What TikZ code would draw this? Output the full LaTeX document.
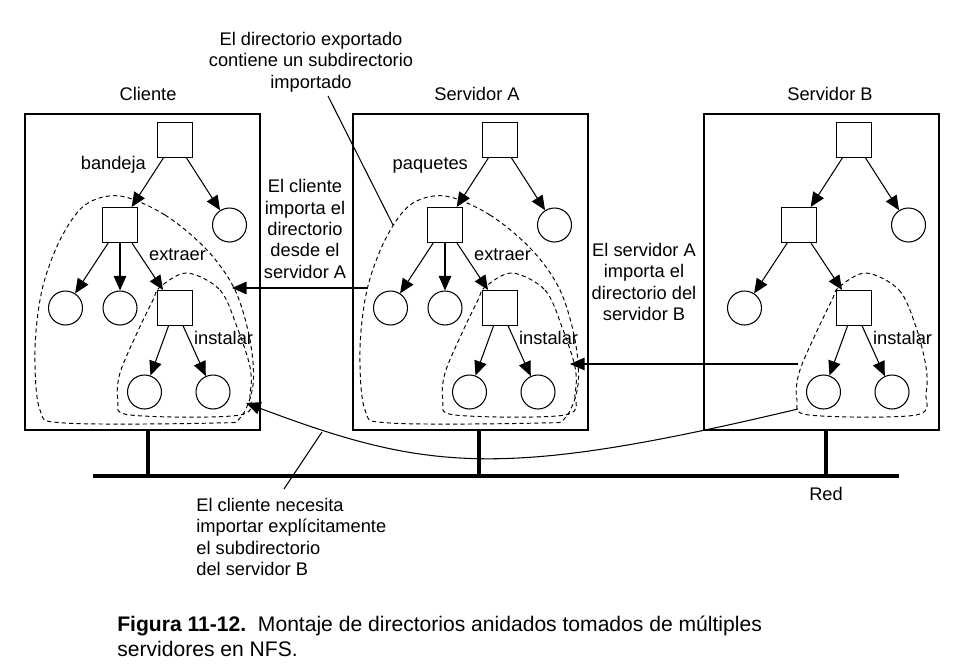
\documentclass[tikz,border=0pt]{standalone}
\usepackage{fontspec}
\setmainfont{Liberation Sans}
\usetikzlibrary{arrows.meta}

\begin{document}
\begin{tikzpicture}[x=0.02cm,y=-0.02cm,
	every node/.style={font=\fontsize{10.4}{12.2}\selectfont},
	dir/.style={draw,fill=white,minimum size=0.7cm,inner sep=0pt,line width=0.6pt},
	fil/.style={draw,circle,fill=white,minimum size=0.68cm,inner sep=0pt,line width=0.6pt},
	host/.style={draw,line width=0.8pt,minimum width=4.7cm,minimum height=6.32cm,inner sep=0pt},
	link/.style={line width=0.6pt,-{Triangle[length=2.9mm,width=2.5mm]}},
	region/.style={dash pattern=on 2.4pt off 1.8pt,line width=0.55pt},
	tap/.style={line width=1.8pt},
	note/.style={align=center,inner sep=0pt}]
					\useasboundingbox (0,0) rectangle (959,669);

					\node[host] (chost) at (142.5,272) {};
					\node[host] (ahost) at (470.5,272) {};
					\node[host] (bhost) at (821.5,272) {};
					\node (ctitle) at (148,94) {Cliente};
					\node (atitle) at (477,94) {Servidor A};
					\node (btitle) at (830,94) {Servidor B};

					\coordinate (net1) at (93,476);
					\coordinate (net2) at (899,476);
					\coordinate (ctap) at (148,476);
					\coordinate (atap) at (479,476);
					\coordinate (btap) at (826,476);
					\draw[line width=2.3pt] (net1) to[] (net2);
					\draw[tap] (ctap |- chost.south) to[] (ctap);
					\draw[tap] (atap |- ahost.south) to[] (atap);
					\draw[tap] (btap |- bhost.south) to[] (btap);
					\node (red) at (826,494) {Red};

					\draw[region,shift={(175,140)}] plot[smooth cycle,tension=0.55] coordinates {(-55,56) (-10,75) (32,110) (60,150) (75,200) (78,245) (65,278) (40,283) (-110,283) (-135,270) (-140,210) (-133,150) (-115,100) (-90,65)};
					\draw[region,shift={(175,308)}] plot[smooth cycle,tension=0.55] coordinates {(12,-35) (45,-18) (62,19) (75,59) (75,85) (65,107) (-45,107) (-57,92) (-55,65) (-38,25) (-22,-8) (-15,-21)};
					\draw[region,shift={(500,140)}] plot[smooth cycle,tension=0.55] coordinates {(-55,56) (-10,75) (32,110) (60,150) (75,200) (78,245) (65,278) (40,283) (-110,283) (-135,270) (-140,210) (-133,150) (-115,100) (-90,65)};
					\draw[region,shift={(500,308)}] plot[smooth cycle,tension=0.55] coordinates {(12,-35) (45,-18) (62,19) (75,59) (75,85) (65,107) (-45,107) (-57,92) (-55,65) (-38,25) (-22,-8) (-15,-21)};
					\draw[region,shift={(854,308)}] plot[smooth cycle,tension=0.55] coordinates {(12,-35) (45,-18) (62,19) (72,59) (72,85) (62,107) (-45,107) (-57,92) (-55,65) (-38,25) (-22,-8) (-15,-21)};

					\node[dir] (c0) at (175,140) {};
					\node[fil] (c1) at (229.5,225) {};
					\node[dir] (c2) at (120,225) {};
					\node[fil] (c3) at (65.5,308) {};
					\node[fil] (c4) at (120,308) {};
					\node[dir] (c5) at (175,308) {};
					\node[fil] (c6) at (144.5,392) {};
					\node[fil] (c7) at (213,392) {};

					\node[dir] (a0) at (500,140) {};
					\node[fil] (a1) at (554.5,225) {};
					\node[dir] (a2) at (445,225) {};
					\node[fil] (a3) at (390.5,308) {};
					\node[fil] (a4) at (445,308) {};
					\node[dir] (a5) at (500,308) {};
					\node[fil] (a6) at (469.5,392) {};
					\node[fil] (a7) at (538,392) {};

					\node[dir] (b0) at (854,140) {};
					\node[fil] (b1) at (908.5,225) {};
					\node[dir] (b2) at (799,225) {};
					\node[fil] (b3) at (744.5,308) {};
					\node[dir] (b5) at (854,308) {};
					\node[fil] (b6) at (823.5,392) {};
					\node[fil] (b7) at (892,392) {};

					\draw[link] (c0) to[] (c1);
					\draw[link] (c0) to[] (c2);
					\draw[link] (c2) to[] (c3);
					\draw[link] (c2) to[] (c4);
					\draw[link] (c2) to[] (c5);
					\draw[link] (c5) to[] (c6);
					\draw[link] (c5) to[] (c7);
					\draw[link] (a0) to[] (a1);
					\draw[link] (a0) to[] (a2);
					\draw[link] (a2) to[] (a3);
					\draw[link] (a2) to[] (a4);
					\draw[link] (a2) to[] (a5);
					\draw[link] (a5) to[] (a6);
					\draw[link] (a5) to[] (a7);
					\draw[link] (b0) to[] (b1);
					\draw[link] (b0) to[] (b2);
					\draw[link] (b2) to[] (b3);
					\draw[link] (b2) to[] (b5);
					\draw[link] (b5) to[] (b6);
					\draw[link] (b5) to[] (b7);

					\node[anchor=east,inner sep=1pt] (bandeja) at (148,165) {bandeja};
					\node[anchor=east,inner sep=1pt] (paquetes) at (470,165) {paquetes};
					\node[anchor=west,inner sep=1pt] (cextraer) at (147,255) {extraer};
					\node[anchor=west,inner sep=1pt] (aextraer) at (472,255) {extraer};
					\node[anchor=west,inner sep=1pt] (cinstalar) at (192,338) {instalar};
					\node[anchor=west,inner sep=1pt] (ainstalar) at (517,338) {instalar};
					\node[anchor=west,inner sep=1pt] (binstalar) at (871,338) {instalar};

					\coordinate (aout) at (368,288);
					\coordinate (cout) at (232,288);
					\coordinate (bin) at (798,364);
					\coordinate (ain) at (570,364);
					\coordinate (bstart) at (798,409);
					\coordinate (cend) at (246,403);
					\draw[link] (aout) to[] (cout);
					\draw[link] (bin) to[] (ain);
					\draw[link] (bstart) .. controls (503,479) and (429,472) .. (cend);

					\node[note] (exported) at (311,62) {El directorio exportado\\contiene un subdirectorio\\importado};
					\node[note] (cimports) at (305,229) {El cliente\\importa el\\directorio\\desde el\\servidor A};
					\node[note] (aimports) at (644,282) {El servidor A\\importa el\\directorio del\\servidor B};
					\node[note,align=left,anchor=west] (needs) at (196,537) {El cliente necesita\\importar explícitamente\\el subdirectorio\\del servidor B};
					\coordinate (exp1) at (328,96);
					\coordinate (exp2) at (393,225);
					\coordinate (need1) at (322,432);
					\coordinate (need2) at (284,489);
					\draw[line width=0.6pt] (exp1) to[] (exp2);
					\draw[line width=0.6pt] (need1) to[] (need2);

					\node[anchor=west,align=left,inner sep=0pt,font=\fontsize{12}{14.2}\selectfont] (caption) at (117,636) {\textbf{Figura 11-12.}\ \ Montaje de directorios anidados tomados de múltiples\\servidores en NFS.};
				\end{tikzpicture}
\end{document}
